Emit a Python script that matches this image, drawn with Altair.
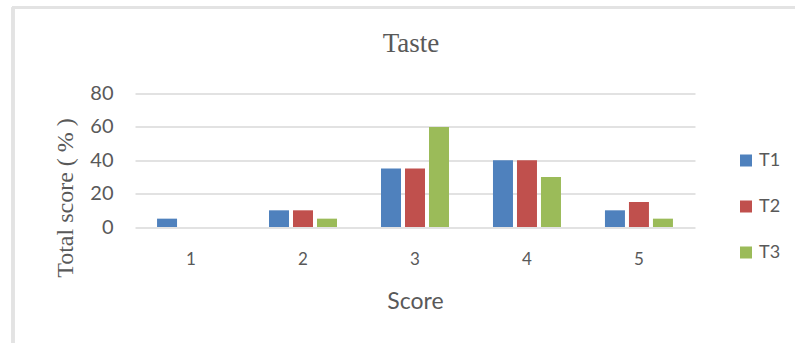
import altair as alt
import pandas as pd

# Taste scores: share of panellists (%) giving each score, per treatment
scores = ["1", "2", "3", "4", "5"]
treatments = ["T1", "T2", "T3"]
t1 = [5, 10, 35, 40, 10]
t2 = [0, 10, 35, 40, 15]
t3 = [0, 5, 60, 30, 5]
colors = ["#4F81BD", "#C0504D", "#9BBB59"]

rows = []
for name, vals in zip(treatments, [t1, t2, t3]):
    for s, v in zip(scores, vals):
        rows.append({"Score": s, "Treatment": name, "Value": v})
df = pd.DataFrame(rows)

SANS = "Lato"
SERIF = "Liberation Serif, Times New Roman, serif"
GREY = "#595959"

bars = alt.Chart(df).mark_bar().encode(
    x=alt.X(
        "Score:N",
        sort=scores,
        scale=alt.Scale(paddingInner=0.357, paddingOuter=0.179),
        axis=alt.Axis(
            title="Score",
            labelAngle=0,
            labelFontSize=17,
            labelPadding=24,
            titleFontSize=23,
            titleY=81,
            titleBaseline="alphabetic",
        ),
    ),
    xOffset=alt.XOffset(
        "Treatment:N",
        sort=treatments,
        scale=alt.Scale(paddingInner=1 / 6, paddingOuter=1 / 12),
    ),
    y=alt.Y(
        "Value:Q",
        scale=alt.Scale(domain=[0, 80], nice=False),
        axis=alt.Axis(
            title="Total score ( % )",
            values=[0, 20, 40, 60, 80],
            labelFontSize=20,
            labelPadding=22,
            grid=True,
            gridColor="#D9D9D9",
            gridWidth=1.5,
            titleFontSize=24,
            titleX=-58,
            titleY=104,
            titleBaseline="bottom",
        ),
    ),
    color=alt.Color(
        "Treatment:N",
        sort=treatments,
        scale=alt.Scale(domain=treatments, range=colors),
        legend=alt.Legend(
            title=None,
            orient="none",
            legendX=602,
            legendY=58,
            symbolType="square",
            symbolSize=144,
            symbolStrokeWidth=0,
            labelFont=SANS,
            labelFontSize=18,
            labelColor=GREY,
            labelOffset=4,
            rowPadding=28,
            padding=0,
        ),
    ),
)

# light frame around the chart area (left and top edges)
frame_left = alt.Chart(df).mark_rule(color="#E3E3E3", strokeWidth=2.5).encode(
    x=alt.value(-122), y=alt.value(-86), y2=alt.value(260)
)
frame_top = alt.Chart(df).mark_rule(color="#E3E3E3", strokeWidth=2.5).encode(
    x=alt.value(-123), x2=alt.value(700), y=alt.value(-86)
)

chart = (
    alt.layer(frame_left, frame_top, bars)
    .properties(
        width=560,
        height=133.5,
        title=alt.TitleParams(
            "Taste",
            font=SERIF,
            fontSize=27,
            fontWeight="normal",
            color=GREY,
            anchor="middle",
            frame="group",
            baseline="alphabetic",
            # the frame rule pushes the group bounds up, so pull the title back down
            offset=-73,
            dx=-4,
        ),
        autosize=alt.AutoSizeParams(type="none"),
        padding={"left": 135, "top": 93.5, "right": 100, "bottom": 116},
        background="white",
    )
    .configure_view(stroke=None)
    .configure_axis(
        labelFont=SANS,
        labelColor=GREY,
        ticks=False,
        domain=False,
        titleColor=GREY,
        titleFontWeight="normal",
    )
    .configure_axisX(titleFont=SANS)
    .configure_axisY(titleFont=SERIF)
)

chart.save("out.html", embed_options={"renderer": "svg", "actions": False})
